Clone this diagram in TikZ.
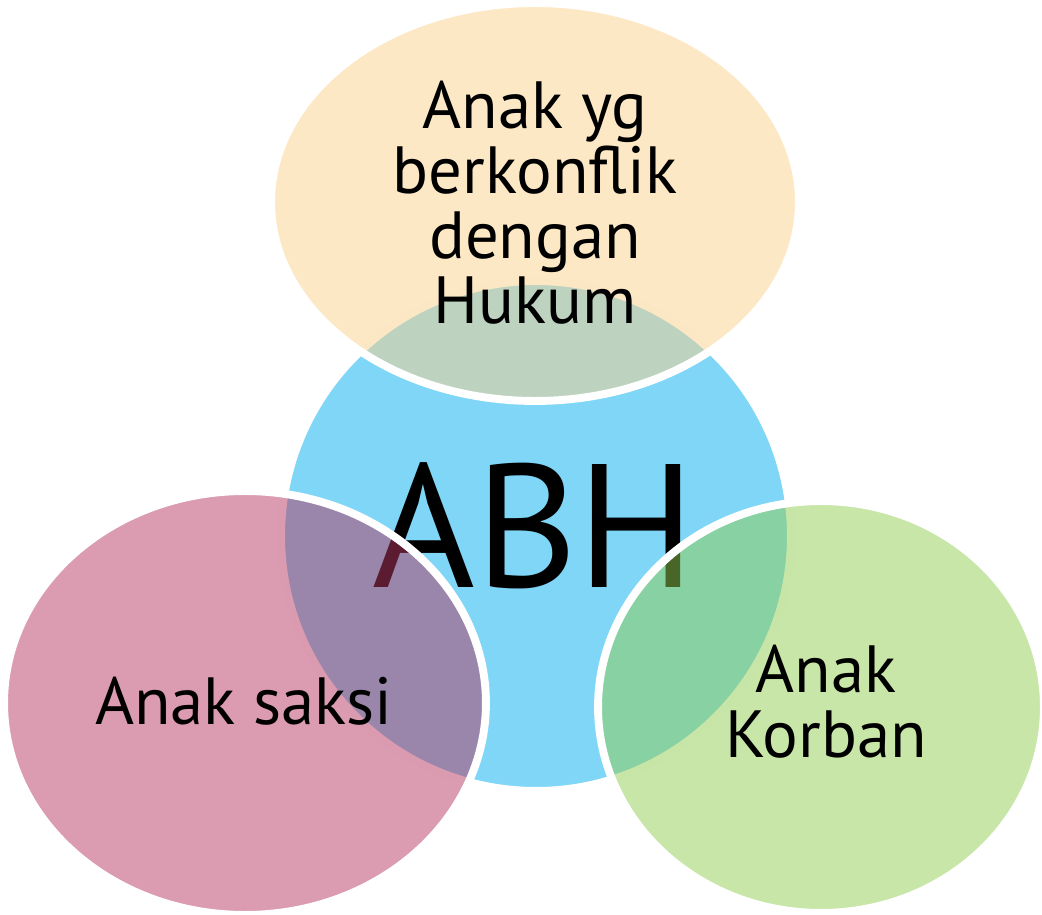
\documentclass[tikz,border=0pt]{standalone}
\usepackage{fontspec}
\setmainfont{PT Sans}
\usetikzlibrary{shapes.geometric}

\definecolor{abhblue}{RGB}{128,214,247}
\definecolor{lawpeach}{RGB}{251,209,139}
\definecolor{witnesspink}{RGB}{183,55,97}
\definecolor{victimgreen}{RGB}{145,205,81}

\tikzset{
    bubble/.style={ellipse, draw=white, line width=4.5pt, inner sep=0pt,
        fill opacity=0.5},
    bubbletext/.style={align=center, font=\fontsize{38}{37}\selectfont},
}

\begin{document}
\begin{tikzpicture}[x=0.02cm, y=-0.02cm]
    \useasboundingbox (0,0) rectangle (1042,915);
    \clip (0,0) rectangle (1042,915);

    % centre circle
    \node[circle, draw=white, line width=4.5pt, fill=abhblue, minimum size=10.2cm,
        inner sep=0pt] (abh) at (536,536) {};
    \node[font=\fontsize{100}{100}\selectfont] (abhtext) at (534,526) {ABH};

    % three groups
    \node[bubble, fill=lawpeach, minimum width=10.56cm, minimum height=7.96cm]
        (hukum) at (535,202) {};
    \node[bubbletext] (hukumtext) at (535,203) {Anak yg\\berkonflik\\dengan\\Hukum};
    \node[bubble, fill=witnesspink, minimum width=9.64cm, minimum height=8.48cm]
        (saksi) at (245,703) {};
    \node[bubbletext] (saksitext) at (244,701) {Anak saksi};
    \node[bubble, fill=victimgreen, minimum width=8.92cm, minimum height=8.24cm]
        (korban) at (821,707) {};
    \node[bubbletext] (korbantext) at (826,702) {Anak\\Korban};
\end{tikzpicture}
\end{document}
